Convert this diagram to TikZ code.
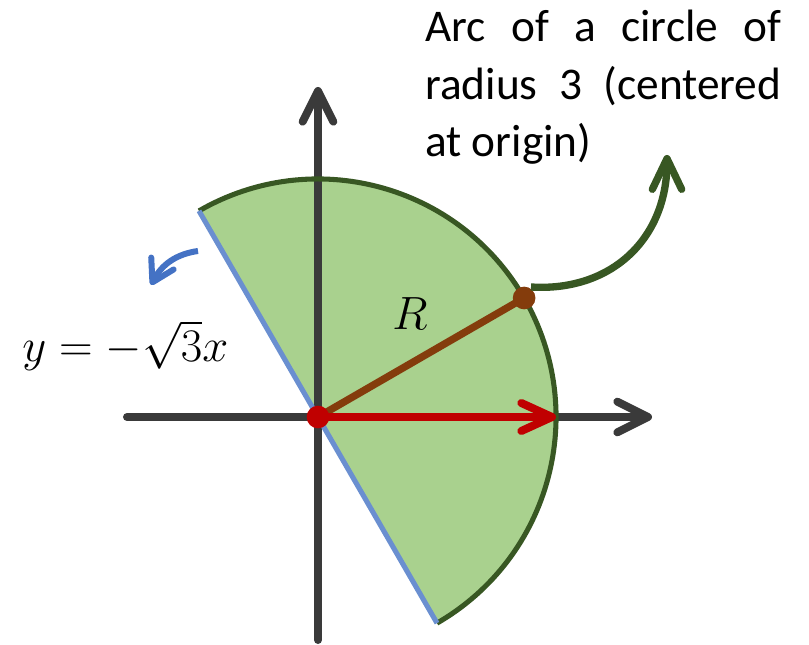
\RequirePackage{fix-cm}
\documentclass[tikz,border=0pt]{standalone}
\usepackage[no-math]{fontspec}
\setmainfont{Carlito}
\usetikzlibrary{arrows.meta}
\definecolor{secfill}{HTML}{A9D18E}
\definecolor{secline}{HTML}{385723}
\definecolor{axisgray}{HTML}{3A3A3A}
\definecolor{redc}{HTML}{C00000}
\definecolor{brownc}{HTML}{843C0C}
\definecolor{bluel}{HTML}{6A8FD0}
\definecolor{bluea}{HTML}{4472C4}
\tikzset{
  axisline/.style={draw=axisgray, line width=6pt, line cap=round,
    -{Straight Barb[length=23pt,width=23pt,round]}},
  dotnode/.style={circle, inner sep=0pt, minimum size=#1},
  lbl/.style={inner sep=0pt, font=\fontsize{35}{42}\selectfont},
}
\begin{document}
\begin{tikzpicture}[x=0.75pt,y=0.75pt]
\useasboundingbox (-318,-228) rectangle (491,417);
\coordinate (O) at (0,0);
\coordinate (A) at (120:178.5pt);
\coordinate (B) at (-60:178.5pt);
\coordinate (P) at (30:178.5pt);
\coordinate (E) at (0:178.5pt);
% sector fill
\fill[secfill] (O) -- (A) arc[start angle=120, end angle=-60, radius=178.5pt] -- cycle;
% axes
\coordinate (xl) at (-191,0);
\coordinate (xr) at (334,0);
\coordinate (yb) at (0,-223);
\coordinate (yt) at (0,330);
\draw[axisline] (xl) -- (xr);
\draw[axisline] (yb) -- (yt);
% outline
\draw[secline, line width=3.8pt] (A) arc[start angle=120, end angle=-60, radius=178.5pt];
\draw[bluel, line width=3.8pt] (A) -- (B);
% radii
\draw[brownc, line width=5.5pt] (O) -- (P);
\draw[redc, line width=6pt, line cap=round, -{Straight Barb[length=23pt,width=21pt,round]}] (O) -- (E);
\node[dotnode=17pt, fill=redc] (Od) at (O) {};
\node[dotnode=17pt, fill=brownc] (Pd) at (P) {};
% green curved arrow
\coordinate (g0) at (213,130);
\coordinate (g1) at (349,262);
\draw[secline, line width=5.5pt, -{Straight Barb[length=23pt,width=22pt,round]}]
  (g0) .. controls (292,125) and (349,177) .. (g1);
% blue curved arrow
\coordinate (b0) at (-120,166);
\coordinate (b1) at (-167,132);
\draw[bluea, line width=4.5pt, -{Straight Barb[length=16pt,width=19pt,round]}]
  (b0) to[out=188,in=62] (b1);
% labels
\node[lbl, anchor=base west] (eq) at (-296,55) {$y=-\sqrt{3}x$};
\node[lbl, anchor=base west] (R) at (74,87) {$R$};
\node[inner sep=0pt, anchor=base west] (txt) at (107,375)
  {\parbox[t]{267pt}{\fontsize{34}{43}\selectfont Arc of a circle of\linebreak radius 3 (centered\linebreak at origin)}};
\end{tikzpicture}
\end{document}
